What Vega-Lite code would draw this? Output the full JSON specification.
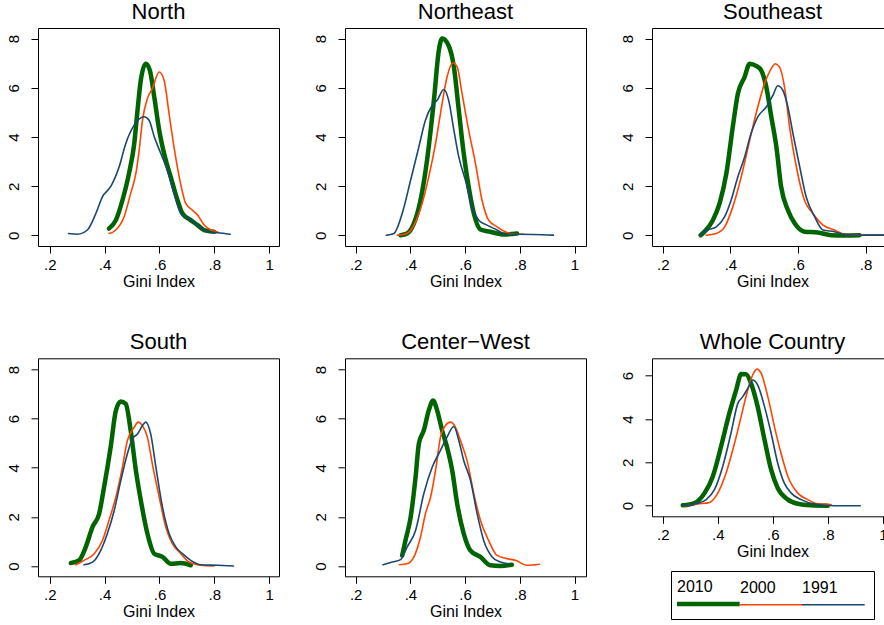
{
"$schema": "https://vega.github.io/schema/vega-lite/v6.json",
"background": "white",
"padding": {"left": 5, "top": 0, "right": 0, "bottom": 0},
"columns": 3,
"spacing": {"row": 40.3, "column": 32},
"align": "each",
"resolve": {"scale": {"color": "independent", "strokeWidth": "independent"}},
"config": {
  "font": "Liberation Sans",
  "view": {"stroke": "black", "strokeWidth": 1, "fill": "white"},
  "axis": {"domain": false, "grid": false, "ticks": true, "tickColor": "black", "tickSize": 7, "tickWidth": 1, "labelFont": "Liberation Sans", "labelFontSize": 15, "labelColor": "black", "titleFont": "Liberation Sans", "titleFontSize": 16, "titleFontWeight": "normal", "titleColor": "black", "labelFlush": false, "labelOverlap": false},
  "axisX": {"labelPadding": 4, "titlePadding": 1},
  "axisY": {"labelAngle": -90, "labelAlign": "center", "labelBaseline": "alphabetic", "labelPadding": 13},
  "title": {"fontSize": 22, "font": "Liberation Sans", "fontWeight": "normal", "color": "black", "offset": 3.9, "frame": "group", "anchor": "middle", "baseline": "alphabetic"},
  "line": {"interpolate": "monotone", "strokeCap": "round", "strokeJoin": "round"}
},
"datasets": {
"dens": [
{"region":"North","year":"2010","gini":0.416,"density":0.28},{"region":"North","year":"2010","gini":0.441,"density":0.62},{"region":"North","year":"2010","gini":0.465,"density":1.43},{"region":"North","year":"2010","gini":0.489,"density":2.52},{"region":"North","year":"2010","gini":0.508,"density":3.73},{"region":"North","year":"2010","gini":0.52,"density":5.09},{"region":"North","year":"2010","gini":0.532,"density":6.31},{"region":"North","year":"2010","gini":0.55,"density":6.98},{"region":"North","year":"2010","gini":0.565,"density":6.71},{"region":"North","year":"2010","gini":0.581,"density":5.63},{"region":"North","year":"2010","gini":0.599,"density":4.28},{"region":"North","year":"2010","gini":0.623,"density":3.06},{"region":"North","year":"2010","gini":0.641,"density":2.38},{"region":"North","year":"2010","gini":0.666,"density":1.43},{"region":"North","year":"2010","gini":0.684,"density":0.89},{"region":"North","year":"2010","gini":0.714,"density":0.62},{"region":"North","year":"2010","gini":0.739,"density":0.42},{"region":"North","year":"2010","gini":0.763,"density":0.22},{"region":"North","year":"2010","gini":0.799,"density":0.15},
{"region":"North","year":"2000","gini":0.416,"density":0.08},{"region":"North","year":"2000","gini":0.441,"density":0.22},{"region":"North","year":"2000","gini":0.471,"density":0.76},{"region":"North","year":"2000","gini":0.495,"density":1.71},{"region":"North","year":"2000","gini":0.514,"density":2.52},{"region":"North","year":"2000","gini":0.526,"density":3.46},{"region":"North","year":"2000","gini":0.538,"density":4.68},{"region":"North","year":"2000","gini":0.556,"density":5.56},{"region":"North","year":"2000","gini":0.574,"density":5.97},{"region":"North","year":"2000","gini":0.599,"density":6.64},{"region":"North","year":"2000","gini":0.617,"density":6.31},{"region":"North","year":"2000","gini":0.635,"density":4.95},{"region":"North","year":"2000","gini":0.653,"density":3.6},{"region":"North","year":"2000","gini":0.672,"density":2.38},{"region":"North","year":"2000","gini":0.696,"density":1.3},{"region":"North","year":"2000","gini":0.72,"density":1.03},{"region":"North","year":"2000","gini":0.739,"density":0.83},{"region":"North","year":"2000","gini":0.763,"density":0.42},{"region":"North","year":"2000","gini":0.788,"density":0.22},{"region":"North","year":"2000","gini":0.812,"density":0.15},
{"region":"North","year":"1991","gini":0.268,"density":0.08},{"region":"North","year":"1991","gini":0.301,"density":0.05},{"region":"North","year":"1991","gini":0.337,"density":0.22},{"region":"North","year":"1991","gini":0.368,"density":0.89},{"region":"North","year":"1991","gini":0.392,"density":1.57},{"region":"North","year":"1991","gini":0.422,"density":1.98},{"region":"North","year":"1991","gini":0.453,"density":2.79},{"region":"North","year":"1991","gini":0.477,"density":3.73},{"region":"North","year":"1991","gini":0.508,"density":4.48},{"region":"North","year":"1991","gini":0.544,"density":4.82},{"region":"North","year":"1991","gini":0.562,"density":4.68},{"region":"North","year":"1991","gini":0.581,"density":4.01},{"region":"North","year":"1991","gini":0.605,"density":3.33},{"region":"North","year":"1991","gini":0.629,"density":2.65},{"region":"North","year":"1991","gini":0.653,"density":1.71},{"region":"North","year":"1991","gini":0.678,"density":0.89},{"region":"North","year":"1991","gini":0.714,"density":0.62},{"region":"North","year":"1991","gini":0.745,"density":0.35},{"region":"North","year":"1991","gini":0.775,"density":0.15},{"region":"North","year":"1991","gini":0.812,"density":0.11},{"region":"North","year":"1991","gini":0.858,"density":0.05},
{"region":"Northeast","year":"2010","gini":0.364,"density":0.01},{"region":"Northeast","year":"2010","gini":0.388,"density":0.08},{"region":"Northeast","year":"2010","gini":0.413,"density":0.49},{"region":"Northeast","year":"2010","gini":0.437,"density":1.43},{"region":"Northeast","year":"2010","gini":0.461,"density":3.06},{"region":"Northeast","year":"2010","gini":0.486,"density":5.49},{"region":"Northeast","year":"2010","gini":0.504,"density":7.52},{"region":"Northeast","year":"2010","gini":0.516,"density":8.0},{"region":"Northeast","year":"2010","gini":0.54,"density":7.71},{"region":"Northeast","year":"2010","gini":0.559,"density":6.85},{"region":"Northeast","year":"2010","gini":0.577,"density":5.09},{"region":"Northeast","year":"2010","gini":0.595,"density":3.33},{"region":"Northeast","year":"2010","gini":0.613,"density":1.98},{"region":"Northeast","year":"2010","gini":0.632,"density":0.89},{"region":"Northeast","year":"2010","gini":0.656,"density":0.24},{"region":"Northeast","year":"2010","gini":0.692,"density":0.15},{"region":"Northeast","year":"2010","gini":0.741,"density":0.04},{"region":"Northeast","year":"2010","gini":0.79,"density":0.08},
{"region":"Northeast","year":"2000","gini":0.352,"density":0.01},{"region":"Northeast","year":"2000","gini":0.388,"density":0.08},{"region":"Northeast","year":"2000","gini":0.419,"density":0.55},{"region":"Northeast","year":"2000","gini":0.443,"density":1.3},{"region":"Northeast","year":"2000","gini":0.467,"density":2.38},{"region":"Northeast","year":"2000","gini":0.492,"density":3.73},{"region":"Northeast","year":"2000","gini":0.51,"density":4.95},{"region":"Northeast","year":"2000","gini":0.534,"density":6.44},{"region":"Northeast","year":"2000","gini":0.555,"density":7.02},{"region":"Northeast","year":"2000","gini":0.571,"density":6.85},{"region":"Northeast","year":"2000","gini":0.589,"density":5.76},{"region":"Northeast","year":"2000","gini":0.613,"density":4.28},{"region":"Northeast","year":"2000","gini":0.638,"density":2.92},{"region":"Northeast","year":"2000","gini":0.662,"density":1.43},{"region":"Northeast","year":"2000","gini":0.686,"density":0.62},{"region":"Northeast","year":"2000","gini":0.717,"density":0.35},{"region":"Northeast","year":"2000","gini":0.747,"density":0.15},{"region":"Northeast","year":"2000","gini":0.778,"density":0.05},{"region":"Northeast","year":"2000","gini":0.814,"density":0.05},
{"region":"Northeast","year":"1991","gini":0.312,"density":0.01},{"region":"Northeast","year":"1991","gini":0.34,"density":0.08},{"region":"Northeast","year":"1991","gini":0.37,"density":0.89},{"region":"Northeast","year":"1991","gini":0.401,"density":2.25},{"region":"Northeast","year":"1991","gini":0.431,"density":3.6},{"region":"Northeast","year":"1991","gini":0.455,"density":4.68},{"region":"Northeast","year":"1991","gini":0.48,"density":5.29},{"region":"Northeast","year":"1991","gini":0.498,"density":5.49},{"region":"Northeast","year":"1991","gini":0.522,"density":5.93},{"region":"Northeast","year":"1991","gini":0.54,"density":5.49},{"region":"Northeast","year":"1991","gini":0.559,"density":4.28},{"region":"Northeast","year":"1991","gini":0.577,"density":3.19},{"region":"Northeast","year":"1991","gini":0.601,"density":2.25},{"region":"Northeast","year":"1991","gini":0.626,"density":1.16},{"region":"Northeast","year":"1991","gini":0.65,"density":0.62},{"region":"Northeast","year":"1991","gini":0.68,"density":0.42},{"region":"Northeast","year":"1991","gini":0.717,"density":0.22},{"region":"Northeast","year":"1991","gini":0.747,"density":0.05},{"region":"Northeast","year":"1991","gini":0.79,"density":0.05},{"region":"Northeast","year":"1991","gini":0.85,"density":0.04},{"region":"Northeast","year":"1991","gini":0.923,"density":0.01},
{"region":"Southeast","year":"2010","gini":0.312,"density":0.01},{"region":"Southeast","year":"2010","gini":0.328,"density":0.22},{"region":"Southeast","year":"2010","gini":0.348,"density":0.62},{"region":"Southeast","year":"2010","gini":0.368,"density":1.3},{"region":"Southeast","year":"2010","gini":0.388,"density":2.52},{"region":"Southeast","year":"2010","gini":0.407,"density":4.41},{"region":"Southeast","year":"2010","gini":0.422,"density":5.76},{"region":"Southeast","year":"2010","gini":0.442,"density":6.44},{"region":"Southeast","year":"2010","gini":0.457,"density":6.98},{"region":"Southeast","year":"2010","gini":0.476,"density":6.89},{"region":"Southeast","year":"2010","gini":0.491,"density":6.71},{"region":"Southeast","year":"2010","gini":0.506,"density":6.04},{"region":"Southeast","year":"2010","gini":0.521,"density":4.82},{"region":"Southeast","year":"2010","gini":0.536,"density":3.6},{"region":"Southeast","year":"2010","gini":0.55,"density":1.98},{"region":"Southeast","year":"2010","gini":0.57,"density":1.03},{"region":"Southeast","year":"2010","gini":0.59,"density":0.49},{"region":"Southeast","year":"2010","gini":0.619,"density":0.15},{"region":"Southeast","year":"2010","gini":0.659,"density":0.12},{"region":"Southeast","year":"2010","gini":0.698,"density":0.01},{"region":"Southeast","year":"2010","gini":0.738,"density":0.0},{"region":"Southeast","year":"2010","gini":0.782,"density":0.01},
{"region":"Southeast","year":"2000","gini":0.328,"density":0.01},{"region":"Southeast","year":"2000","gini":0.358,"density":0.08},{"region":"Southeast","year":"2000","gini":0.383,"density":0.35},{"region":"Southeast","year":"2000","gini":0.407,"density":1.16},{"region":"Southeast","year":"2000","gini":0.432,"density":2.38},{"region":"Southeast","year":"2000","gini":0.457,"density":3.87},{"region":"Southeast","year":"2000","gini":0.481,"density":5.22},{"region":"Southeast","year":"2000","gini":0.501,"density":6.17},{"region":"Southeast","year":"2000","gini":0.521,"density":6.78},{"region":"Southeast","year":"2000","gini":0.533,"density":6.98},{"region":"Southeast","year":"2000","gini":0.545,"density":6.85},{"region":"Southeast","year":"2000","gini":0.56,"density":6.04},{"region":"Southeast","year":"2000","gini":0.575,"density":4.41},{"region":"Southeast","year":"2000","gini":0.595,"density":2.79},{"region":"Southeast","year":"2000","gini":0.619,"density":1.43},{"region":"Southeast","year":"2000","gini":0.644,"density":0.89},{"region":"Southeast","year":"2000","gini":0.674,"density":0.42},{"region":"Southeast","year":"2000","gini":0.708,"density":0.22},{"region":"Southeast","year":"2000","gini":0.738,"density":0.05},{"region":"Southeast","year":"2000","gini":0.807,"density":0.01},{"region":"Southeast","year":"2000","gini":0.856,"density":0.01},
{"region":"Southeast","year":"1991","gini":0.312,"density":0.01},{"region":"Southeast","year":"1991","gini":0.333,"density":0.22},{"region":"Southeast","year":"1991","gini":0.358,"density":0.35},{"region":"Southeast","year":"1991","gini":0.383,"density":0.76},{"region":"Southeast","year":"1991","gini":0.402,"density":1.43},{"region":"Southeast","year":"1991","gini":0.422,"density":2.38},{"region":"Southeast","year":"1991","gini":0.442,"density":3.19},{"region":"Southeast","year":"1991","gini":0.461,"density":4.14},{"region":"Southeast","year":"1991","gini":0.481,"density":4.82},{"region":"Southeast","year":"1991","gini":0.506,"density":5.22},{"region":"Southeast","year":"1991","gini":0.526,"density":5.7},{"region":"Southeast","year":"1991","gini":0.54,"density":6.08},{"region":"Southeast","year":"1991","gini":0.555,"density":5.9},{"region":"Southeast","year":"1991","gini":0.57,"density":5.22},{"region":"Southeast","year":"1991","gini":0.585,"density":4.14},{"region":"Southeast","year":"1991","gini":0.605,"density":2.79},{"region":"Southeast","year":"1991","gini":0.624,"density":1.57},{"region":"Southeast","year":"1991","gini":0.649,"density":0.76},{"region":"Southeast","year":"1991","gini":0.674,"density":0.22},{"region":"Southeast","year":"1991","gini":0.708,"density":0.15},{"region":"Southeast","year":"1991","gini":0.738,"density":0.04},{"region":"Southeast","year":"1991","gini":0.807,"density":0.01},{"region":"Southeast","year":"1991","gini":0.87,"density":0.01},
{"region":"South","year":"2010","gini":0.277,"density":0.12},{"region":"South","year":"2010","gini":0.307,"density":0.23},{"region":"South","year":"2010","gini":0.331,"density":0.77},{"region":"South","year":"2010","gini":0.356,"density":1.59},{"region":"South","year":"2010","gini":0.38,"density":2.13},{"region":"South","year":"2010","gini":0.398,"density":3.21},{"region":"South","year":"2010","gini":0.422,"density":4.84},{"region":"South","year":"2010","gini":0.441,"density":6.33},{"region":"South","year":"2010","gini":0.459,"density":6.7},{"region":"South","year":"2010","gini":0.477,"density":6.6},{"region":"South","year":"2010","gini":0.495,"density":5.52},{"region":"South","year":"2010","gini":0.514,"density":3.89},{"region":"South","year":"2010","gini":0.532,"density":2.67},{"region":"South","year":"2010","gini":0.556,"density":1.32},{"region":"South","year":"2010","gini":0.581,"density":0.5},{"region":"South","year":"2010","gini":0.611,"density":0.37},{"region":"South","year":"2010","gini":0.641,"density":0.09},{"region":"South","year":"2010","gini":0.678,"density":0.12},{"region":"South","year":"2010","gini":0.714,"density":0.03},
{"region":"South","year":"2000","gini":0.295,"density":0.05},{"region":"South","year":"2000","gini":0.325,"density":0.23},{"region":"South","year":"2000","gini":0.362,"density":0.5},{"region":"South","year":"2000","gini":0.392,"density":1.04},{"region":"South","year":"2000","gini":0.416,"density":1.86},{"region":"South","year":"2000","gini":0.441,"density":2.81},{"region":"South","year":"2000","gini":0.465,"density":4.03},{"region":"South","year":"2000","gini":0.483,"density":5.11},{"region":"South","year":"2000","gini":0.508,"density":5.65},{"region":"South","year":"2000","gini":0.522,"density":5.86},{"region":"South","year":"2000","gini":0.538,"density":5.72},{"region":"South","year":"2000","gini":0.556,"density":5.25},{"region":"South","year":"2000","gini":0.574,"density":4.16},{"region":"South","year":"2000","gini":0.599,"density":2.81},{"region":"South","year":"2000","gini":0.623,"density":1.59},{"region":"South","year":"2000","gini":0.647,"density":0.91},{"region":"South","year":"2000","gini":0.678,"density":0.5},{"region":"South","year":"2000","gini":0.708,"density":0.16},{"region":"South","year":"2000","gini":0.751,"density":0.03},{"region":"South","year":"2000","gini":0.799,"density":0.0},
{"region":"South","year":"1991","gini":0.325,"density":0.05},{"region":"South","year":"1991","gini":0.356,"density":0.16},{"region":"South","year":"1991","gini":0.386,"density":0.64},{"region":"South","year":"1991","gini":0.41,"density":1.32},{"region":"South","year":"1991","gini":0.435,"density":2.26},{"region":"South","year":"1991","gini":0.459,"density":3.48},{"region":"South","year":"1991","gini":0.483,"density":4.57},{"region":"South","year":"1991","gini":0.501,"density":5.18},{"region":"South","year":"1991","gini":0.52,"density":5.38},{"region":"South","year":"1991","gini":0.538,"density":5.72},{"region":"South","year":"1991","gini":0.55,"density":5.86},{"region":"South","year":"1991","gini":0.568,"density":5.38},{"region":"South","year":"1991","gini":0.587,"density":4.03},{"region":"South","year":"1991","gini":0.611,"density":2.4},{"region":"South","year":"1991","gini":0.635,"density":1.32},{"region":"South","year":"1991","gini":0.66,"density":0.77},{"region":"South","year":"1991","gini":0.684,"density":0.5},{"region":"South","year":"1991","gini":0.714,"density":0.23},{"region":"South","year":"1991","gini":0.751,"density":0.05},{"region":"South","year":"1991","gini":0.812,"density":0.03},{"region":"South","year":"1991","gini":0.87,"density":0.0},
{"region":"Center-West","year":"2010","gini":0.37,"density":0.43},{"region":"Center-West","year":"2010","gini":0.382,"density":1.04},{"region":"Center-West","year":"2010","gini":0.401,"density":1.99},{"region":"Center-West","year":"2010","gini":0.419,"density":3.62},{"region":"Center-West","year":"2010","gini":0.431,"density":4.98},{"region":"Center-West","year":"2010","gini":0.449,"density":5.52},{"region":"Center-West","year":"2010","gini":0.467,"density":6.33},{"region":"Center-West","year":"2010","gini":0.483,"density":6.74},{"region":"Center-West","year":"2010","gini":0.498,"density":6.33},{"region":"Center-West","year":"2010","gini":0.516,"density":5.52},{"region":"Center-West","year":"2010","gini":0.534,"density":4.84},{"region":"Center-West","year":"2010","gini":0.553,"density":3.89},{"region":"Center-West","year":"2010","gini":0.571,"density":2.54},{"region":"Center-West","year":"2010","gini":0.595,"density":1.32},{"region":"Center-West","year":"2010","gini":0.619,"density":0.64},{"region":"Center-West","year":"2010","gini":0.656,"density":0.37},{"region":"Center-West","year":"2010","gini":0.692,"density":0.03},{"region":"Center-West","year":"2010","gini":0.729,"density":0.0},{"region":"Center-West","year":"2010","gini":0.771,"density":0.05},
{"region":"Center-West","year":"2000","gini":0.36,"density":0.05},{"region":"Center-West","year":"2000","gini":0.388,"density":0.09},{"region":"Center-West","year":"2000","gini":0.413,"density":0.37},{"region":"Center-West","year":"2000","gini":0.437,"density":1.18},{"region":"Center-West","year":"2000","gini":0.455,"density":2.13},{"region":"Center-West","year":"2000","gini":0.474,"density":2.81},{"region":"Center-West","year":"2000","gini":0.492,"density":3.89},{"region":"Center-West","year":"2000","gini":0.51,"density":5.25},{"region":"Center-West","year":"2000","gini":0.528,"density":5.72},{"region":"Center-West","year":"2000","gini":0.547,"density":5.86},{"region":"Center-West","year":"2000","gini":0.565,"density":5.65},{"region":"Center-West","year":"2000","gini":0.583,"density":5.11},{"region":"Center-West","year":"2000","gini":0.607,"density":4.3},{"region":"Center-West","year":"2000","gini":0.632,"density":2.94},{"region":"Center-West","year":"2000","gini":0.656,"density":1.86},{"region":"Center-West","year":"2000","gini":0.686,"density":1.04},{"region":"Center-West","year":"2000","gini":0.717,"density":0.43},{"region":"Center-West","year":"2000","gini":0.753,"density":0.3},{"region":"Center-West","year":"2000","gini":0.784,"density":0.23},{"region":"Center-West","year":"2000","gini":0.826,"density":0.03},{"region":"Center-West","year":"2000","gini":0.872,"density":0.07},
{"region":"Center-West","year":"1991","gini":0.3,"density":0.05},{"region":"Center-West","year":"1991","gini":0.334,"density":0.16},{"region":"Center-West","year":"1991","gini":0.364,"density":0.26},{"region":"Center-West","year":"1991","gini":0.388,"density":0.77},{"region":"Center-West","year":"1991","gini":0.419,"density":1.45},{"region":"Center-West","year":"1991","gini":0.449,"density":2.94},{"region":"Center-West","year":"1991","gini":0.48,"density":4.03},{"region":"Center-West","year":"1991","gini":0.51,"density":4.71},{"region":"Center-West","year":"1991","gini":0.534,"density":5.25},{"region":"Center-West","year":"1991","gini":0.559,"density":5.68},{"region":"Center-West","year":"1991","gini":0.577,"density":5.11},{"region":"Center-West","year":"1991","gini":0.595,"density":4.3},{"region":"Center-West","year":"1991","gini":0.62,"density":3.48},{"region":"Center-West","year":"1991","gini":0.644,"density":2.13},{"region":"Center-West","year":"1991","gini":0.668,"density":1.04},{"region":"Center-West","year":"1991","gini":0.699,"density":0.37},{"region":"Center-West","year":"1991","gini":0.729,"density":0.16},{"region":"Center-West","year":"1991","gini":0.76,"density":0.09},
{"region":"Whole Country","year":"2010","gini":0.273,"density":0.02},{"region":"Whole Country","year":"2010","gini":0.315,"density":0.12},{"region":"Whole Country","year":"2010","gini":0.352,"density":0.58},{"region":"Whole Country","year":"2010","gini":0.382,"density":1.35},{"region":"Whole Country","year":"2010","gini":0.412,"density":2.73},{"region":"Whole Country","year":"2010","gini":0.442,"density":4.26},{"region":"Whole Country","year":"2010","gini":0.467,"density":5.34},{"region":"Whole Country","year":"2010","gini":0.485,"density":6.07},{"region":"Whole Country","year":"2010","gini":0.503,"density":6.06},{"region":"Whole Country","year":"2010","gini":0.521,"density":5.64},{"region":"Whole Country","year":"2010","gini":0.545,"density":4.57},{"region":"Whole Country","year":"2010","gini":0.57,"density":3.04},{"region":"Whole Country","year":"2010","gini":0.594,"density":1.66},{"region":"Whole Country","year":"2010","gini":0.618,"density":0.81},{"region":"Whole Country","year":"2010","gini":0.655,"density":0.28},{"region":"Whole Country","year":"2010","gini":0.691,"density":0.09},{"region":"Whole Country","year":"2010","gini":0.739,"density":0.02},{"region":"Whole Country","year":"2010","gini":0.8,"density":0.0},
{"region":"Whole Country","year":"2000","gini":0.279,"density":0.0},{"region":"Whole Country","year":"2000","gini":0.327,"density":0.08},{"region":"Whole Country","year":"2000","gini":0.37,"density":0.15},{"region":"Whole Country","year":"2000","gini":0.4,"density":0.58},{"region":"Whole Country","year":"2000","gini":0.43,"density":1.5},{"region":"Whole Country","year":"2000","gini":0.461,"density":2.88},{"region":"Whole Country","year":"2000","gini":0.485,"density":4.11},{"region":"Whole Country","year":"2000","gini":0.509,"density":5.34},{"region":"Whole Country","year":"2000","gini":0.527,"density":6.03},{"region":"Whole Country","year":"2000","gini":0.543,"density":6.3},{"region":"Whole Country","year":"2000","gini":0.558,"density":6.1},{"region":"Whole Country","year":"2000","gini":0.582,"density":5.03},{"region":"Whole Country","year":"2000","gini":0.606,"density":3.65},{"region":"Whole Country","year":"2000","gini":0.63,"density":2.42},{"region":"Whole Country","year":"2000","gini":0.655,"density":1.35},{"region":"Whole Country","year":"2000","gini":0.691,"density":0.58},{"region":"Whole Country","year":"2000","gini":0.727,"density":0.28},{"region":"Whole Country","year":"2000","gini":0.764,"density":0.09},{"region":"Whole Country","year":"2000","gini":0.812,"density":0.05},
{"region":"Whole Country","year":"1991","gini":0.273,"density":0.0},{"region":"Whole Country","year":"1991","gini":0.321,"density":0.09},{"region":"Whole Country","year":"1991","gini":0.358,"density":0.28},{"region":"Whole Country","year":"1991","gini":0.388,"density":0.74},{"region":"Whole Country","year":"1991","gini":0.418,"density":1.81},{"region":"Whole Country","year":"1991","gini":0.448,"density":3.34},{"region":"Whole Country","year":"1991","gini":0.473,"density":4.72},{"region":"Whole Country","year":"1991","gini":0.491,"density":5.03},{"region":"Whole Country","year":"1991","gini":0.509,"density":5.41},{"region":"Whole Country","year":"1991","gini":0.527,"density":5.8},{"region":"Whole Country","year":"1991","gini":0.545,"density":5.57},{"region":"Whole Country","year":"1991","gini":0.57,"density":4.57},{"region":"Whole Country","year":"1991","gini":0.594,"density":3.34},{"region":"Whole Country","year":"1991","gini":0.618,"density":1.96},{"region":"Whole Country","year":"1991","gini":0.642,"density":1.04},{"region":"Whole Country","year":"1991","gini":0.667,"density":0.58},{"region":"Whole Country","year":"1991","gini":0.703,"density":0.28},{"region":"Whole Country","year":"1991","gini":0.752,"density":0.08},{"region":"Whole Country","year":"1991","gini":0.824,"density":0.0},{"region":"Whole Country","year":"1991","gini":0.918,"density":0.0}
]
},
"concat": [
{
 "title": "North", "width": 241, "height": 218,
 "data": {"name": "dens"},
 "transform": [{"filter": "datum.region === 'North'"}],
 "encoding": {
  "x": {"field": "gini", "type": "quantitative", "scale": {"domain": [0.157, 1.036], "nice": false, "zero": false}, "axis": {"values": [0.2, 0.4, 0.6, 0.8, 1], "title": "Gini Index", "labelExpr": "datum.value >= 1 ? '1' : '.' + round(datum.value * 10)"}},
  "y": {"field": "density", "type": "quantitative", "scale": {"domain": [-0.43, 8.43], "nice": false, "zero": false}, "axis": {"values": [0, 2, 4, 6, 8], "title": null}},
  "color": {"field": "year", "type": "nominal", "scale": {"domain": ["2010", "2000", "1991"], "range": ["#006400", "#ff4500", "#1a476f"]}, "legend": null},
  "strokeWidth": {"field": "year", "type": "nominal", "scale": {"type": "ordinal", "domain": ["2010", "2000", "1991"], "range": [4.5, 1.6, 1.6]}, "legend": null}
 },
 "layer": [
  {"transform": [{"filter": "datum.year === '2010'"}], "mark": "line"},
  {"transform": [{"filter": "datum.year === '2000'"}], "mark": "line"},
  {"transform": [{"filter": "datum.year === '1991'"}], "mark": "line"}
 ]
},
{
 "title": "Northeast", "width": 241, "height": 218,
 "data": {"name": "dens"},
 "transform": [{"filter": "datum.region === 'Northeast'"}],
 "encoding": {
  "x": {"field": "gini", "type": "quantitative", "scale": {"domain": [0.161, 1.042], "nice": false, "zero": false}, "axis": {"values": [0.2, 0.4, 0.6, 0.8, 1], "title": "Gini Index", "labelExpr": "datum.value >= 1 ? '1' : '.' + round(datum.value * 10)"}},
  "y": {"field": "density", "type": "quantitative", "scale": {"domain": [-0.43, 8.43], "nice": false, "zero": false}, "axis": {"values": [0, 2, 4, 6, 8], "title": null}},
  "color": {"field": "year", "type": "nominal", "scale": {"domain": ["2010", "2000", "1991"], "range": ["#006400", "#ff4500", "#1a476f"]}, "legend": null},
  "strokeWidth": {"field": "year", "type": "nominal", "scale": {"type": "ordinal", "domain": ["2010", "2000", "1991"], "range": [4.5, 1.6, 1.6]}, "legend": null}
 },
 "layer": [
  {"transform": [{"filter": "datum.year === '2010'"}], "mark": "line"},
  {"transform": [{"filter": "datum.year === '2000'"}], "mark": "line"},
  {"transform": [{"filter": "datum.year === '1991'"}], "mark": "line"}
 ]
},
{
 "title": "Southeast", "width": 241, "height": 218,
 "data": {"name": "dens"},
 "transform": [{"filter": "datum.region === 'Southeast'"}],
 "encoding": {
  "x": {"field": "gini", "type": "quantitative", "scale": {"domain": [0.168, 0.881], "nice": false, "zero": false}, "axis": {"values": [0.2, 0.4, 0.6, 0.8], "title": "Gini Index", "labelExpr": "datum.value >= 1 ? '1' : '.' + round(datum.value * 10)"}},
  "y": {"field": "density", "type": "quantitative", "scale": {"domain": [-0.43, 8.43], "nice": false, "zero": false}, "axis": {"values": [0, 2, 4, 6, 8], "title": null}},
  "color": {"field": "year", "type": "nominal", "scale": {"domain": ["2010", "2000", "1991"], "range": ["#006400", "#ff4500", "#1a476f"]}, "legend": null},
  "strokeWidth": {"field": "year", "type": "nominal", "scale": {"type": "ordinal", "domain": ["2010", "2000", "1991"], "range": [4.5, 1.6, 1.6]}, "legend": null}
 },
 "layer": [
  {"transform": [{"filter": "datum.year === '2010'"}], "mark": "line"},
  {"transform": [{"filter": "datum.year === '2000'"}], "mark": "line"},
  {"transform": [{"filter": "datum.year === '1991'"}], "mark": "line"}
 ]
},
{
 "title": "South", "width": 241, "height": 218,
 "data": {"name": "dens"},
 "transform": [{"filter": "datum.region === 'South'"}],
 "encoding": {
  "x": {"field": "gini", "type": "quantitative", "scale": {"domain": [0.157, 1.036], "nice": false, "zero": false}, "axis": {"values": [0.2, 0.4, 0.6, 0.8, 1], "title": "Gini Index", "labelExpr": "datum.value >= 1 ? '1' : '.' + round(datum.value * 10)"}},
  "y": {"field": "density", "type": "quantitative", "scale": {"domain": [-0.42, 8.46], "nice": false, "zero": false}, "axis": {"values": [0, 2, 4, 6, 8], "title": null}},
  "color": {"field": "year", "type": "nominal", "scale": {"domain": ["2010", "2000", "1991"], "range": ["#006400", "#ff4500", "#1a476f"]}, "legend": null},
  "strokeWidth": {"field": "year", "type": "nominal", "scale": {"type": "ordinal", "domain": ["2010", "2000", "1991"], "range": [4.5, 1.6, 1.6]}, "legend": null}
 },
 "layer": [
  {"transform": [{"filter": "datum.year === '2010'"}], "mark": "line"},
  {"transform": [{"filter": "datum.year === '2000'"}], "mark": "line"},
  {"transform": [{"filter": "datum.year === '1991'"}], "mark": "line"}
 ]
},
{
 "title": "Center−West", "width": 241, "height": 218,
 "data": {"name": "dens"},
 "transform": [{"filter": "datum.region === 'Center-West'"}],
 "encoding": {
  "x": {"field": "gini", "type": "quantitative", "scale": {"domain": [0.161, 1.042], "nice": false, "zero": false}, "axis": {"values": [0.2, 0.4, 0.6, 0.8, 1], "title": "Gini Index", "labelExpr": "datum.value >= 1 ? '1' : '.' + round(datum.value * 10)"}},
  "y": {"field": "density", "type": "quantitative", "scale": {"domain": [-0.42, 8.46], "nice": false, "zero": false}, "axis": {"values": [0, 2, 4, 6, 8], "title": null}},
  "color": {"field": "year", "type": "nominal", "scale": {"domain": ["2010", "2000", "1991"], "range": ["#006400", "#ff4500", "#1a476f"]}, "legend": null},
  "strokeWidth": {"field": "year", "type": "nominal", "scale": {"type": "ordinal", "domain": ["2010", "2000", "1991"], "range": [4.5, 1.6, 1.6]}, "legend": null}
 },
 "layer": [
  {"transform": [{"filter": "datum.year === '2010'"}], "mark": "line"},
  {"transform": [{"filter": "datum.year === '2000'"}], "mark": "line"},
  {"transform": [{"filter": "datum.year === '1991'"}], "mark": "line"}
 ]
},
{
 "title": "Whole Country", "width": 241, "height": 158,
 "data": {"name": "dens"},
 "transform": [{"filter": "datum.region === 'Whole Country'"}],
 "encoding": {
  "x": {"field": "gini", "type": "quantitative", "scale": {"domain": [0.161, 1.037], "nice": false, "zero": false}, "axis": {"values": [0.2, 0.4, 0.6, 0.8, 1], "title": "Gini Index", "labelExpr": "datum.value >= 1 ? '1' : '.' + round(datum.value * 10)"}},
  "y": {"field": "density", "type": "quantitative", "scale": {"domain": [-0.49, 6.8], "nice": false, "zero": false}, "axis": {"values": [0, 2, 4, 6], "title": null}},
  "color": {"field": "year", "type": "nominal", "scale": {"domain": ["2010", "2000", "1991"], "range": ["#006400", "#ff4500", "#1a476f"]},
   "legend": {"orient": "none", "legendX": 19, "legendY": 212.7, "direction": "horizontal", "columns": 3, "title": null, "symbolType": "M-5.457,2.959H5.457M0,3.786", "symbolSize": 132, "symbolOffset": 21.35, "labelOffset": -39.35, "columnPadding": -4.1, "gridAlign": "each", "strokeColor": "black", "padding": 8, "labelFontSize": 16, "labelFont": "Liberation Sans", "labelColor": "black", "labelBaseline": "middle"}},
  "strokeWidth": {"field": "year", "type": "nominal", "scale": {"type": "ordinal", "domain": ["2010", "2000", "1991"], "range": [4.5, 1.6, 1.6]},
   "legend": {"orient": "none", "legendX": 19, "legendY": 212.7, "direction": "horizontal", "columns": 3, "title": null, "symbolType": "M-5.457,2.959H5.457M0,3.786", "symbolSize": 132, "symbolOffset": 21.35, "labelOffset": -39.35, "columnPadding": -4.1, "gridAlign": "each", "strokeColor": "black", "padding": 8, "labelFontSize": 16, "labelFont": "Liberation Sans", "labelColor": "black", "labelBaseline": "middle"}}
 },
 "layer": [
  {"transform": [{"filter": "datum.year === '2010'"}], "mark": "line"},
  {"transform": [{"filter": "datum.year === '2000'"}], "mark": "line"},
  {"transform": [{"filter": "datum.year === '1991'"}], "mark": "line"}
 ]
}
]
}
